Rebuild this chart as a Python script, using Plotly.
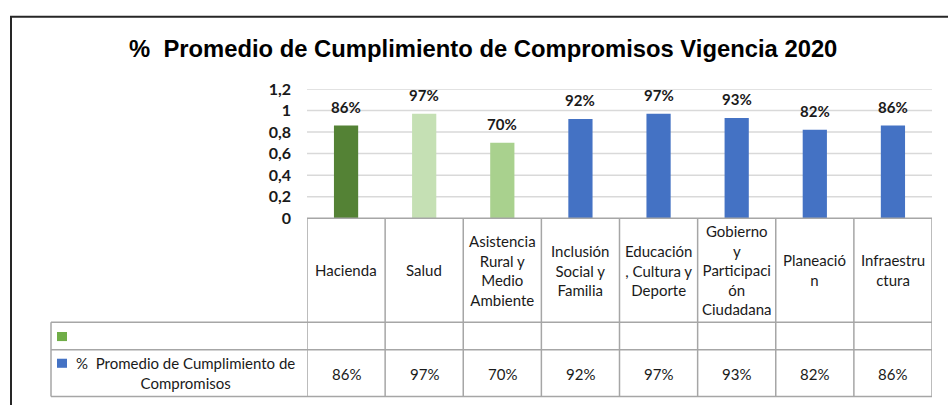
import plotly.graph_objects as go

# ---- data ----
categories = ["Hacienda", "Salud", "Asistencia Rural y Medio Ambiente",
              "Inclusión Social y Familia", "Educación, Cultura y Deporte",
              "Gobierno y Participación Ciudadana", "Planeación", "Infraestructura"]
category_labels = ["Hacienda", "Salud", "Asistencia<br>Rural y<br>Medio<br>Ambiente",
                   "Inclusión<br>Social y<br>Familia", "Educación<br>, Cultura y<br>Deporte",
                   "Gobierno<br>y<br>Participaci<br>ón<br>Ciudadana", "Planeació<br>n",
                   "Infraestru<br>ctura"]
values = [0.86, 0.97, 0.70, 0.92, 0.97, 0.93, 0.82, 0.86]
series_name = "%  Promedio de Cumplimiento de<br>Compromisos"
title_text = "%  Promedio de Cumplimiento de Compromisos Vigencia 2020"
y_ticks = [0, 0.2, 0.4, 0.6, 0.8, 1.0, 1.2]

# ---- styles ----
bar_colors = ["#548235", "#C5E0B4", "#A9D18E", "#4472C4", "#4472C4", "#4472C4", "#4472C4", "#4472C4"]
W, H = 948, 414
FONT = "Lato"
GRID = "#D9D9D9"
TBL = "#A6A6A6"
TXT = "#1a1a1a"


def px(x):
    return x / W


def py(y):
    return 1 - y / H


plot_left, plot_right = 307, 932
y0_px, ytop_px = 218.3, 82.7
row1_bottom, row2_bottom, row3_bottom = 327.3, 356, 405
table_left = 51

fig = go.Figure()
fig.add_trace(go.Bar(x=categories, y=values, marker=dict(color=bar_colors, line=dict(width=0)),
                     width=0.31, showlegend=False, hoverinfo="x+y"))

shapes = []
annotations = []

# gridlines
for t in y_ticks[1:]:
    shapes.append(dict(type="line", xref="paper", yref="y", x0=px(plot_left), x1=px(plot_right),
                       y0=t, y1=t, line=dict(color=GRID, width=1.5), layer="below"))

# data labels
for c, v in zip(categories, values):
    annotations.append(dict(x=c, y=v, xref="x", yref="y", text=f"<b>{round(v*100)}%</b>",
                            showarrow=False, yanchor="middle", yshift=19,
                            font=dict(family=FONT, size=15, color=TXT)))

# data table grid
shapes.append(dict(type="line", xref="paper", yref="paper", x0=px(plot_left), x1=px(plot_right),
                   y0=py(y0_px), y1=py(y0_px), line=dict(color=TBL, width=1.5)))
for yy in (row1_bottom, row2_bottom, row3_bottom):
    shapes.append(dict(type="line", xref="paper", yref="paper", x0=px(table_left), x1=px(plot_right),
                       y0=py(yy), y1=py(yy), line=dict(color=TBL, width=1.5)))
n = len(categories)
for i in range(n + 1):
    shapes.append(dict(type="line", xref="x", yref="paper", x0=i - 0.5, x1=i - 0.5,
                       y0=py(y0_px), y1=py(row3_bottom), line=dict(color=TBL, width=1.5)))
shapes.append(dict(type="line", xref="paper", yref="paper", x0=px(table_left), x1=px(table_left),
                   y0=py(row1_bottom), y1=py(row3_bottom), line=dict(color=TBL, width=1.5)))

# legend keys
shapes.append(dict(type="rect", xref="paper", yref="paper", x0=px(57), x1=px(67),
                   y0=py(347), y1=py(337.5), fillcolor="#70AD47", line=dict(width=0)))
shapes.append(dict(type="rect", xref="paper", yref="paper", x0=px(57), x1=px(67),
                   y0=py(375), y1=py(365.5), fillcolor="#4472C4", line=dict(width=0)))

# outer frame (top and left)
shapes.append(dict(type="line", xref="paper", yref="paper", x0=px(10), x1=1, y0=py(7), y1=py(7),
                   line=dict(color="#262626", width=2)))
shapes.append(dict(type="line", xref="paper", yref="paper", x0=px(11), x1=px(11), y0=py(7), y1=0,
                   line=dict(color="#262626", width=2)))

# table text
for c, lab, v in zip(categories, category_labels, values):
    annotations.append(dict(x=c, y=py((y0_px + row1_bottom) / 2), xref="x", yref="paper", text=lab,
                            showarrow=False, yanchor="middle", xanchor="center",
                            font=dict(family=FONT, size=15, color=TXT)))
    annotations.append(dict(x=c, y=py(381.5), xref="x", yref="paper", text=f"{round(v*100)}%",
                            showarrow=False, yanchor="middle", xanchor="center",
                            font=dict(family=FONT, size=15, color=TXT)))

annotations.append(dict(x=px(185), y=py(380), xref="paper", yref="paper", text=series_name,
                        showarrow=False, yanchor="middle", xanchor="center",
                        font=dict(family=FONT, size=15, color=TXT)))

# title
annotations.append(dict(x=px(483), y=py(40), xref="paper", yref="paper", text=f"<b>{title_text}</b>",
                        showarrow=False, yanchor="middle", xanchor="center",
                        font=dict(family="Liberation Sans", size=23.8, color="#000000")))

fig.update_layout(
    width=W, height=H, margin=dict(l=0, r=0, t=0, b=0),
    paper_bgcolor="white", plot_bgcolor="white",
    separators=",.",
    shapes=shapes, annotations=annotations,
    xaxis=dict(domain=[px(plot_left), px(plot_right)], range=[-0.5, n - 0.5],
               showticklabels=False, showgrid=False, zeroline=False, showline=False, ticks=""),
    yaxis=dict(domain=[py(y0_px), py(ytop_px)], range=[0, 1.2], tickvals=y_ticks,
               showgrid=False, zeroline=False, showline=False, ticks="",
               ticklabelstandoff=15,
               tickfont=dict(family=FONT, size=16, color=TXT, weight="bold")),
    showlegend=False,
)

fig.write_html("out.html", config={"displayModeBar": False},
               post_script="document.body.style.margin='0';document.body.style.overflow='hidden';")
